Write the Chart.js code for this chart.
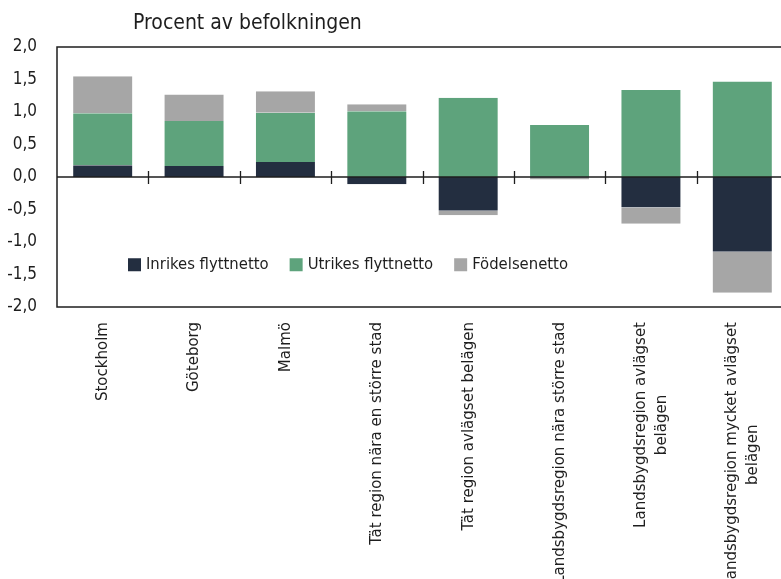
<!DOCTYPE html>
<html lang="sv">
<head>
<meta charset="utf-8">
<title>Befolkningsförändring efter regiontyp</title>
<script src="https://cdn.jsdelivr.net/npm/chart.js@4.4.1/dist/chart.umd.min.js"></script>
<style>
  html, body { margin: 0; padding: 0; background: #fff; }
  #wrap { width: 781px; height: 579px; overflow: hidden; position: relative; }
  canvas { display: block; }
</style>
</head>
<body>
<div id="wrap">
  <canvas id="chart" width="800" height="579"></canvas>
</div>
<script>
// ======= Data =======
const regioner = [
  "Stockholm",
  "Göteborg",
  "Malmö",
  "Tät region nära en större stad",
  "Tät region avlägset belägen",
  "Landsbygdsregion nära större stad",
  ["Landsbygdsregion avlägset", "belägen"],
  ["Landsbygdsregion mycket avlägset", "belägen"]
];

const inrikes  = [0.18, 0.17, 0.23, -0.11, -0.52, -0.01, -0.47, -1.15];
const utrikes  = [0.80, 0.69, 0.76, 1.01, 1.22, 0.80, 1.34, 1.47];
const fodelse  = [0.57, 0.41, 0.33, 0.11, -0.07, -0.03, -0.25, -0.63];

const yTicks = [-2, -1.5, -1, -0.5, 0, 0.5, 1, 1.5, 2];

const titel = "Procent av befolkningen";
const serieNamn = ["Inrikes flyttnetto", "Utrikes flyttnetto", "Födelsenetto"];
const farger = ["#232e40", "#5ea37c", "#a6a6a6"];

const FONT = "'DejaVu Sans Condensed', 'DejaVu Sans', sans-serif";
const TEXT = "#1e1e1e";

// ======= Ramar, nollinje, kategorietiketter, legend och titel =======
const ritaExtra = {
  id: "ritaExtra",
  afterDatasetsDraw(chart) {
    const { ctx, chartArea: a, scales } = chart;
    const x = scales.x, y = scales.y;
    const y0 = y.getPixelForValue(0);
    const halv = (x.getPixelForValue(1) - x.getPixelForValue(0)) / 2;

    ctx.save();
    // ram
    ctx.strokeStyle = "#1e1e1e";
    ctx.lineWidth = 1.5;
    ctx.strokeRect(a.left, a.top, a.right - a.left, a.bottom - a.top);

    // nollinje med små streck mellan kategorierna
    ctx.lineWidth = 1.3;
    ctx.beginPath();
    ctx.moveTo(a.left, y0);
    ctx.lineTo(a.right, y0);
    for (let i = 1; i < regioner.length; i++) {
      const px = Math.round(x.getPixelForValue(i) - halv) + 0.5;
      ctx.moveTo(px, y0 - 6);
      ctx.lineTo(px, y0 + 7);
    }
    ctx.stroke();

    // kategorietiketter, roterade
    ctx.fillStyle = TEXT;
    ctx.font = "16.7px " + FONT;
    ctx.textBaseline = "middle";
    const radH = 21;
    regioner.forEach((lbl, i) => {
      const rader = Array.isArray(lbl) ? lbl : [lbl];
      const bredast = Math.max(...rader.map(r => ctx.measureText(r).width));
      ctx.save();
      ctx.translate(x.getPixelForValue(i), a.bottom + 15);
      ctx.rotate(-Math.PI / 2);
      rader.forEach((r, j) => {
        const dy = (j - (rader.length - 1) / 2) * radH;
        if (rader.length > 1) {
          ctx.textAlign = "center";
          ctx.fillText(r, -bredast / 2, dy);
        } else {
          ctx.textAlign = "right";
          ctx.fillText(r, 0, dy);
        }
      });
      ctx.restore();
    });

    // legend inne i diagrammet
    ctx.font = "16.5px " + FONT;
    ctx.textAlign = "left";
    ctx.textBaseline = "middle";
    let lx = 128;
    const ly = y.getPixelForValue(-1.35);
    serieNamn.forEach((namn, i) => {
      ctx.fillStyle = farger[i];
      ctx.fillRect(lx, ly - 6.5, 13, 13);
      ctx.fillStyle = TEXT;
      ctx.fillText(namn, lx + 18, ly);
      lx += 18 + ctx.measureText(namn).width + 21;
    });

    // titel
    ctx.font = "21px " + FONT;
    ctx.textBaseline = "alphabetic";
    ctx.fillText(titel, 133, 29);
    ctx.restore();
  }
};

const ctx = document.getElementById("chart").getContext("2d");

const chart = new Chart(ctx, {
  type: "bar",
  data: {
    labels: regioner,
    datasets: [inrikes, utrikes, fodelse].map((d, i) => ({
      label: serieNamn[i],
      data: d,
      backgroundColor: farger[i],
      borderColor: "rgba(255,255,255,0.35)",
      borderWidth: { left: 1, right: 1, top: 0, bottom: 0 },
      borderSkipped: false,
      barPercentage: 0.667,
      categoryPercentage: 1
    }))
  },
  options: {
    responsive: false,
    animation: false,
    layout: { padding: { left: 0, top: 47, right: 12, bottom: 272 } },
    plugins: {
      legend: { display: false },
      tooltip: { enabled: false }
    },
    scales: {
      x: {
        stacked: true,
        grid: { display: false, drawTicks: false },
        border: { display: false },
        ticks: { display: false },
        afterFit: s => { s.height = 0; }
      },
      y: {
        stacked: true,
        min: -2,
        max: 2,
        afterBuildTicks: s => { s.ticks = yTicks.map(v => ({ value: v })); },
        afterFit: s => { s.width = 57; },
        grid: { display: false, drawTicks: false },
        border: { display: false },
        ticks: {
          padding: 20,
          color: TEXT,
          font: { family: FONT, size: 17 },
          callback: v => v.toFixed(1).replace(".", ",")
        }
      }
    }
  },
  plugins: [ritaExtra]
});
</script>
</body>
</html>
